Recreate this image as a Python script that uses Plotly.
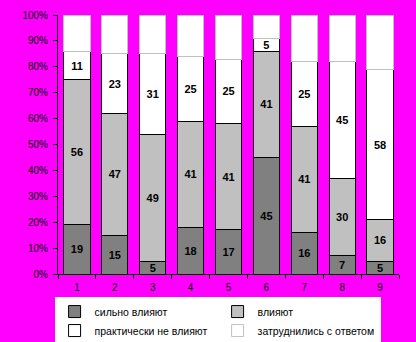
import plotly.graph_objects as go

categories = ["1", "2", "3", "4", "5", "6", "7", "8", "9"]
strong = [19, 15, 5, 18, 17, 45, 16, 7, 5]
influence = [56, 47, 49, 41, 41, 41, 41, 30, 16]
practically_not = [11, 23, 31, 25, 25, 5, 25, 45, 58]
hard_to_say = [14, 15, 15, 16, 17, 9, 18, 18, 21]

names = ["сильно влияют", "влияют", "практически не влияют", "затруднились с ответом"]
series = [strong, influence, practically_not, hard_to_say]
fills = ["#808080", "#C0C0C0", "#FFFFFF", "#FFFFFF"]
lines = ["#000000", "#000000", "#000000", "#C0C0C0"]
labels_on = [True, True, True, False]

fig = go.Figure()
for name, vals, fc, lc, lab in zip(names, series, fills, lines, labels_on):
    fig.add_trace(go.Bar(
        x=categories, y=vals, name=name,
        marker=dict(color=fc, line=dict(color=lc, width=1)),
        text=[str(v) for v in vals] if lab else None,
        texttemplate="<b>%{text}</b>" if lab else None,
        textposition="inside" if lab else "none",
        insidetextanchor="middle", textangle=0,
        textfont=dict(family="Liberation Sans, Arial", size=11, color="black"),
        hoverinfo="skip",
    ))

fig.update_layout(
    barmode="stack", bargap=0.31,
    width=416, height=342,
    margin=dict(l=58, r=17, t=15, b=68, autoexpand=False),
    paper_bgcolor="#FF00FF", plot_bgcolor="#FF00FF",
    font=dict(family="Liberation Sans, Arial", size=10, color="black"),
    uniformtext=dict(mode="show", minsize=11),
    showlegend=True,
    legend=dict(
        orientation="h", x=-0.01, y=-0.089, xanchor="left", yanchor="top",
        bgcolor="white", entrywidth=118, entrywidthmode="pixels",
        itemwidth=30, font=dict(size=10.5), traceorder="normal",
    ),
)
fig.update_xaxes(
    type="category", showline=True, linecolor="black", linewidth=1,
    ticks="outside", tickson="boundaries", ticklen=4, tickcolor="black",
    showgrid=False, tickfont=dict(size=10), ticklabelstandoff=4,
)
fig.update_yaxes(
    range=[0, 100], dtick=10, ticksuffix="%", showline=True, linecolor="black",
    linewidth=1, ticks="outside", ticklen=4, tickcolor="black", showgrid=False,
    zeroline=False, tickfont=dict(size=10), ticklabelstandoff=3,
)

fig.write_html("out.html")
